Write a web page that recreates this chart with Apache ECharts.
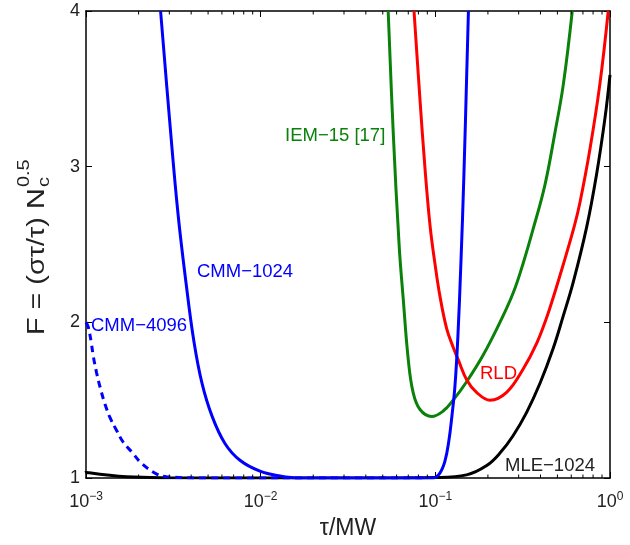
<!DOCTYPE html>
<html><head><meta charset="utf-8">
<script src="https://cdn.jsdelivr.net/npm/echarts@6/dist/echarts.min.js"></script>
<style>html,body{margin:0;padding:0;background:#fff}#c{width:630px;height:545px}</style>
</head><body><div id="c"></div>
<script>
// ---- data ----
const cmm1024X = [0.002673,0.003026,0.003362,0.003736,0.004151,0.004613,0.005262,0.006246,0.007611,0.009908,0.0129,0.01679,0.0316,0.0631,0.0969,0.1062,0.1135,0.1196,0.1245,0.1295,0.1346,0.1401,0.1458,0.1547];
const cmm1024F = [4.0,3.27,2.699,2.256,1.875,1.609,1.399,1.222,1.114,1.044,1.013,1.0,1.0,1.0,1.0,1.032,1.108,1.241,1.4,1.59,1.907,2.383,2.953,4.0];

const cmm4096X = [0.001,0.00103,0.00107,0.001102,0.001151,0.001213,0.001285,0.001371,0.0015,0.001633,0.001828,0.002084,0.002541,0.002897,0.005,0.03,0.09];
const cmm4096F = [2.0,1.97,1.875,1.78,1.674,1.57,1.474,1.389,1.304,1.23,1.167,1.093,1.025,1.008,1.0,1.0,1.0];

const mleX = [0.001,0.001009,0.00171,0.003,0.01,0.05,0.1,0.151,0.1968,0.2344,0.278,0.3327,0.398,0.472,0.5395,0.6166,0.7345,0.8375,0.9354,1.0];
const mleF = [1.045,1.036,1.008,1.002,1.0,1.0,1.003,1.02,1.08,1.16,1.27,1.42,1.61,1.83,2.04,2.26,2.61,2.95,3.31,3.59];

const iemX = [0.0537,0.0574,0.0621,0.0655,0.07,0.0746,0.0817,0.0953,0.1109,0.1265,0.1514,0.1879,0.2344,0.2793,0.3184,0.3631,0.4236,0.4842,0.5408,0.6081];
const iemF = [4.0,3.22,2.49,2.15,1.76,1.55,1.44,1.395,1.43,1.5,1.62,1.79,2.0,2.19,2.38,2.6,2.88,3.22,3.53,4.0];

const rldX = [0.0755,0.0817,0.0871,0.0933,0.1,0.1062,0.1161,0.1265,0.1352,0.1514,0.1722,0.2056,0.2559,0.3184,0.3802,0.4335,0.4732,0.5395,0.6252,0.673,0.767,0.875,0.977];
const rldF = [4.0,3.43,3.0,2.62,2.36,2.17,1.96,1.84,1.76,1.63,1.55,1.5,1.55,1.7,1.865,2.03,2.16,2.37,2.62,2.77,3.11,3.53,4.0];

const yTicks = [1,2,3,4];
const minorTickX = [0.002,0.003,0.004,0.005,0.006,0.007,0.008,0.009,0.02,0.03,0.04,0.05,0.06,0.07,0.08,0.09,0.2,0.3,0.4,0.5,0.6,0.7,0.8,0.9];
const labelTexts = ['IEM\u221215 [17]','CMM\u22121024','CMM\u22124096','RLD','MLE\u22121024'];

// ---- chart ----
function zip(xs, ys){ return xs.map((x,i)=>[x, ys[i]]); }
const FONT = '"Liberation Sans", Arial, Helvetica, sans-serif';
const chart = echarts.init(document.getElementById('c'));

const L = 86, R = 610, T = 11, B = 483;

function measure(txt, font){
  const c = document.createElement('canvas').getContext('2d');
  c.font = font; return c.measureText(txt).width;
}
const yMainFont = '23px ' + FONT;
const yMain = 'F = (\u03c3\u03c4/\u03c4) N';
const yMainW = measure(yMain, yMainFont);
const yStart = 335; // screen y where label starts (bottom)
const yStretch = 1.25;

const lineBase = {type:'line', showSymbol:false, smooth:0.4, clip:true, z:3};
const LW = 3;

const axisCommon = {
  axisLine:{show:true, lineStyle:{color:'#000', width:1.5}},
  axisTick:{show:true, inside:true, length:6, lineStyle:{color:'#000', width:1}},
  splitLine:{show:false}
};

const option = {
  animation:false,
  backgroundColor:'#fff',
  grid:{left:L, right:630-R, top:T, bottom:545-B},
  xAxis:[
    Object.assign({type:'log', logBase:10, min:0.001, max:1, position:'bottom',
     name:'\u03c4/MW', nameLocation:'middle', nameGap:39,
     nameTextStyle:{fontFamily:FONT, fontSize:23, color:'#222'},
     axisLabel:{margin:13, color:'#222', fontFamily:FONT, fontSize:18,
       formatter:function(v){ const e = Math.round(Math.log10(v)); return '10{sup|' + (e<0?'\u2212'+(-e):e) + '}'; },
       rich:{sup:{fontSize:12, fontFamily:FONT, color:'#222', padding:[0,0,11,0]}}}}, axisCommon),
    Object.assign({type:'log', logBase:10, min:0.001, max:1, position:'top', axisLabel:{show:false}}, axisCommon)
  ],
  yAxis:[
    Object.assign({type:'value', min:yTicks[0], max:yTicks[yTicks.length-1], interval:1, position:'left',
     axisLabel:{margin:6, color:'#222', fontFamily:FONT, fontSize:18}}, axisCommon),
    Object.assign({type:'value', min:yTicks[0], max:yTicks[yTicks.length-1], interval:1, position:'right',
     axisLabel:{show:false}}, axisCommon)
  ],
  series:[
    Object.assign({}, lineBase, {name:'MLE-1024', data:zip(mleX, mleF), lineStyle:{width:LW, color:'#000'}, itemStyle:{color:'#000'}}),
    Object.assign({}, lineBase, {name:'IEM-15', data:zip(iemX, iemF), lineStyle:{width:LW, color:'#0a820a'}, itemStyle:{color:'#0a820a'}}),
    Object.assign({}, lineBase, {name:'RLD', data:zip(rldX, rldF), lineStyle:{width:LW, color:'#ff0000'}, itemStyle:{color:'#ff0000'}}),
    Object.assign({}, lineBase, {name:'CMM-4096', data:zip(cmm4096X, cmm4096F), lineStyle:{width:LW, color:'#0000ff', type:[7,5]}, itemStyle:{color:'#0000ff'}}),
    Object.assign({}, lineBase, {name:'CMM-1024', data:zip(cmm1024X, cmm1024F), lineStyle:{width:LW, color:'#0000ff'}, itemStyle:{color:'#0000ff'}})
  ]
};
chart.setOption(option);

// labels and y-axis title
const LF = '18.5px ' + FONT;
const graphics = [
  {type:'text', x:285, y:136, z:10, style:{text:labelTexts[0], fill:'#0a820a', font:LF, textVerticalAlign:'middle'}},
  {type:'text', x:197, y:272, z:10, style:{text:labelTexts[1], fill:'#0000ff', font:LF, textVerticalAlign:'middle'}},
  {type:'text', x:91, y:326, z:10, style:{text:labelTexts[2], fill:'#0000ff', font:LF, textVerticalAlign:'middle'}},
  {type:'text', x:480, y:374, z:10, style:{text:labelTexts[3], fill:'#ff0000', font:LF, textVerticalAlign:'middle'}},
  {type:'text', x:505, y:466, z:10, style:{text:labelTexts[4], fill:'#222', font:LF, textVerticalAlign:'middle'}},
  {type:'group', x:38, y:yStart, rotation:Math.PI/2, scaleX:yStretch, children:[
    {type:'text', x:0, y:0, style:{text:yMain, font:yMainFont, fill:'#222', textVerticalAlign:'middle', textAlign:'left'}},
    {type:'text', x:yMainW+1, y:7, style:{text:'c', font:'16px '+FONT, fill:'#222', textVerticalAlign:'middle', textAlign:'left'}},
    {type:'text', x:yMainW+1, y:-13, style:{text:'0.5', font:'16px '+FONT, fill:'#222', textVerticalAlign:'middle', textAlign:'left'}}
  ]}
];
// minor log ticks, positioned through the chart's own axis scale
const yb = chart.convertToPixel({yAxisIndex:0}, yTicks[0]);
const yt = chart.convertToPixel({yAxisIndex:0}, yTicks[yTicks.length-1]);
minorTickX.forEach(function(v){
  const px = chart.convertToPixel({xAxisIndex:0}, v);
  graphics.push({type:'line', z:5, shape:{x1:px, y1:yb, x2:px, y2:yb-3.5}, style:{stroke:'#000', lineWidth:1}});
  graphics.push({type:'line', z:5, shape:{x1:px, y1:yt, x2:px, y2:yt+3.5}, style:{stroke:'#000', lineWidth:1}});
});
chart.setOption({graphic:graphics});
</script></body></html>
